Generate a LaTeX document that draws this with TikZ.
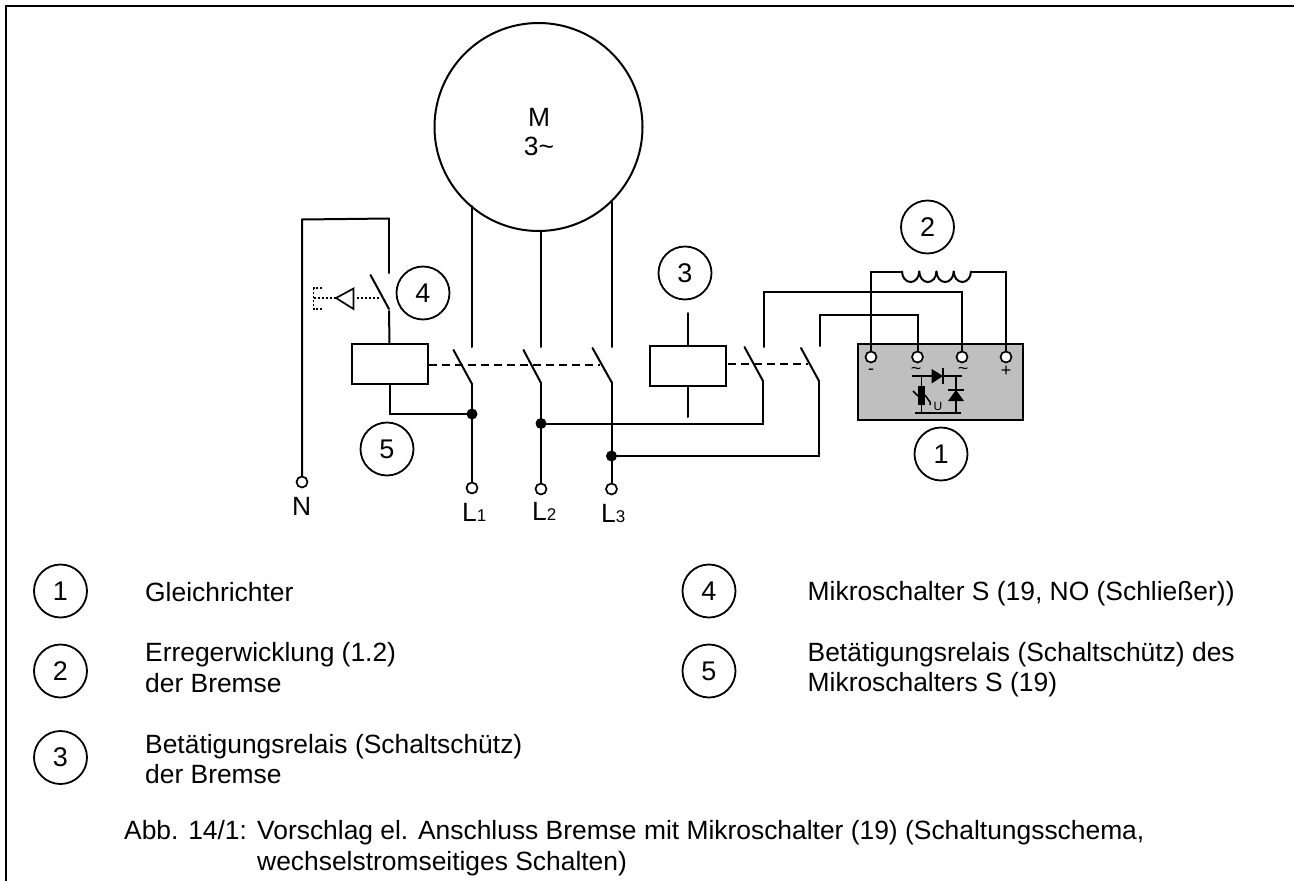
\documentclass[tikz,border=0pt]{standalone}
\usepackage{fontspec}
\setmainfont{Liberation Sans}
\usetikzlibrary{positioning}
\tikzset{
    wire/.style={line width=2pt, line cap=round},
    ctrl/.style={line width=2pt, dash pattern=on 8pt off 5pt},
    dots/.style={line width=1.6pt, dash pattern=on 2pt off 2pt},
    terminal/.style={circle, draw, line width=1.7pt, fill=white, inner sep=0pt, minimum size=11pt},
    junction/.style={circle, fill=black, inner sep=0pt, minimum size=11pt},
    relay/.style={rectangle, draw, line width=2pt, fill=white, inner sep=0pt, minimum width=76pt, minimum height=40pt},
    callout/.style={circle, draw, line width=1.8pt, inner sep=0pt, minimum size=53pt, font=\fontsize{27}{30}\selectfont},
    legend/.style={anchor=base west, inner sep=0pt, font=\fontsize{26.4}{31}\selectfont},
    polarity/.style={font=\fontsize{18}{18}\selectfont, inner sep=0pt}
}
\newcommand{\linelabel}[1]{L{\fontsize{17}{17}\selectfont #1}}
\begin{document}
\begin{tikzpicture}[x=1pt, y=-1pt]
                \useasboundingbox (0,0) rectangle (1294,881);
                \draw [line width=2.4pt] (6,881) -- (6,6) -- (1294,6);

                \node (motor) [circle, draw, line width=2pt, inner sep=0pt, minimum size=208pt] at (538.5,127) {};
                \node (mlabel) [font=\fontsize{26.4}{29}\selectfont, align=center, inner sep=0pt] at (539,132) {M\\3\textasciitilde};

                \node (box) [rectangle, draw, line width=2.2pt, fill=black!25, inner sep=0pt, minimum width=165pt, minimum height=76pt] at (940.5,382) {};
                \node (rel1) [relay] at (389.5,364) {};
                \node (rel3) [relay] at (687.5,365.7) {};

                \coordinate (m1) at (472,206);
                \coordinate (m2) at (541,231);
                \coordinate (m3) at (611.5,202);
                \coordinate (s1u) at (472,347);
                \coordinate (s2u) at (541,347);
                \coordinate (s3u) at (611.5,347);
                \coordinate (s1a) at (453.5,350);
                \coordinate (s2a) at (523.5,350);
                \coordinate (s3a) at (592.5,348);
                \coordinate (s1b) at (472,384);
                \coordinate (s2b) at (541,383);
                \coordinate (s3b) at (611.5,382);
                \coordinate (s4u) at (764,347);
                \coordinate (s4a) at (744.5,347);
                \coordinate (s4b) at (763,381);
                \coordinate (s5u) at (820,346);
                \coordinate (s5a) at (801,348);
                \coordinate (s5b) at (819,381);
                \coordinate (mu) at (389,273);
                \coordinate (ma) at (370.5,275);
                \coordinate (mb) at (389,309);
                \coordinate (ml) at (389,311);
                \coordinate (mt) at (389,218.5);
                \coordinate (nt) at (302,219.5);
                \coordinate (c3u) at (687.5,313);
                \coordinate (c3d) at (687.5,417);
                \coordinate (w4) at (764,292);
                \coordinate (w5) at (820,315);
                \coordinate (coila) at (902,271.5);
                \coordinate (coilb) at (971,271.5);

                \node (tn) [terminal] at (302,482) {};
                \node (t1) [terminal] at (472,488) {};
                \node (t2) [terminal] at (541,489) {};
                \node (t3) [terminal] at (611.5,489) {};
                \node (gm) [terminal] at (871,357) {};
                \node (ga) [terminal] at (917.5,357) {};
                \node (gb) [terminal] at (962,357) {};
                \node (gp) [terminal] at (1006,357) {};

                \node (j1) [junction] at (472,414) {};
                \node (j2) [junction] at (541,423.5) {};
                \node (j3) [junction] at (611.5,456) {};

                \path [wire]
                    (m1) edge (s1u)
                    (m2) edge (s2u)
                    (m3) edge (s3u)
                    (s1a) edge (s1b)
                    (s2a) edge (s2b)
                    (s3a) edge (s3b)
                    (s1b) edge (t1)
                    (s2b) edge (t2)
                    (s3b) edge (t3)
                    (s4a) edge (s4b)
                    (s5a) edge (s5b)
                    (ma) edge (mb)
                    (mu) edge (mt)
                    (ml) edge (rel1.north)
                    (c3u) edge (rel3.north)
                    (rel3.south) edge (c3d);

                \draw [wire] (tn) -- (nt) -- (mt);
                \draw [wire] (rel1.south) |- (j1);
                \draw [wire] (j2) -| (s4b);
                \draw [wire] (j3) -| (s5b);
                \draw [wire] (s4u) -- (w4) -| (gb);
                \draw [wire] (s5u) -- (w5) -| (ga);
                \draw [wire] (gm) |- (coila);
                \draw [wire] (gp) |- (coilb);
                \foreach \i in {0,1,2,3}
                    \draw [wire] ({902+17.25*\i},271.5) arc [start angle=180, end angle=0, x radius=8.6, y radius=10.5];

                \coordinate (d1a) at (429,365);
                \coordinate (d1b) at (600,365);
                \coordinate (d3a) at (728,364);
                \coordinate (d3b) at (808,364);
                \path [ctrl]
                    (d1a) edge (d1b)
                    (d3a) edge (d3b);

                \coordinate (tip) at (336,298);
                \coordinate (lev) at (379,298);
                \coordinate (tri) at (357,298);
                \coordinate (br) at (313.5,298);
                \draw [line width=1.7pt, line join=miter] (353.5,288.5) -- (tip) -- (353.5,309) -- cycle;
                \path [dots]
                    (tri) edge (lev)
                    (br) edge (tip);
                \draw [dots] (322,288) -- (313.5,288) -- (313.5,309) -- (322,309);

                \node (c1) [callout] at (941,454) {1};
                \node (c2) [callout] at (927.5,227) {2};
                \node (c3) [callout] at (685,273) {3};
                \node (c4) [callout] at (423,293) {4};
                \node (c5) [callout] at (387,449) {5};

                \node (lbn) [legend] at (292,515) {N};
                \node (lb1) [legend] at (462,521) {\linelabel{1}};
                \node (lb2) [legend] at (532,520) {\linelabel{2}};
                \node (lb3) [legend] at (601,522) {\linelabel{3}};

                \node (pm) [polarity] at (871,372) {-};
                \node (pa) [polarity] at (916,371) {\textasciitilde};
                \node (pb) [polarity] at (963,371) {\textasciitilde};
                \node (pp) [polarity] at (1006,371) {+};

                \draw [line width=1.5pt] (912,376) -- (961.5,376);
                \draw [line width=1.5pt] (915,413) -- (961,413);
                \draw [line width=1.5pt] (956,376) -- (956,413);
                \draw [line width=1.5pt] (921.5,376) -- (921.5,413);
                \draw [line width=1.5pt] (943,368) -- (943,384);
                \draw [line width=1.5pt] (948,390) -- (964,390);
                \fill (931.7,369) -- (931.7,383.5) -- (943,376) -- cycle;
                \fill (956,390) -- (948,401) -- (964,401) -- cycle;
                \fill (917.7,386) rectangle (925,404.5);
                \draw [line width=1.5pt] (913,391) -- (918,396);
                \draw [line width=1.5pt] (925,395) -- (930,402) -- (930,405);
                \node (valu) [inner sep=0pt, font=\fontsize{12}{12}\selectfont] at (938,406) {U};

                \node (k1) [callout] at (60.5,591) {1};
                \node (k2) [callout] at (60.5,671) {2};
                \node (k3) [callout] at (60.5,757.5) {3};
                \node (k4) [callout] at (709,591) {4};
                \node (k5) [callout] at (709,671) {5};

                \node (g1) [legend] at (145,601) {Gleichrichter};
                \node (g2) [legend] at (145,661) {Erregerwicklung (1.2)};
                \node (g2b) [legend] at (145,692) {der Bremse};
                \node (g3) [legend] at (145,753) {Betätigungsrelais (Schaltschütz)};
                \node (g3b) [legend] at (145,783) {der Bremse};
                \node (g4) [legend] at (807.5,600) {Mikroschalter S (19, NO (Schließer))};
                \node (g5) [legend] at (807.5,661) {Betätigungsrelais (Schaltschütz) des};
                \node (g5b) [legend] at (807.5,691) {Mikroschalters S (19)};
                \node (cap) [legend] at (124,839) {Abb. 14/1:};
                \node (cap1) [legend] at (257,839) {Vorschlag el. Anschluss Bremse mit Mikroschalter (19) (Schaltungsschema,};
                \node (cap2) [legend] at (257,870) {wechselstromseitiges Schalten)};
            \end{tikzpicture}
\end{document}
